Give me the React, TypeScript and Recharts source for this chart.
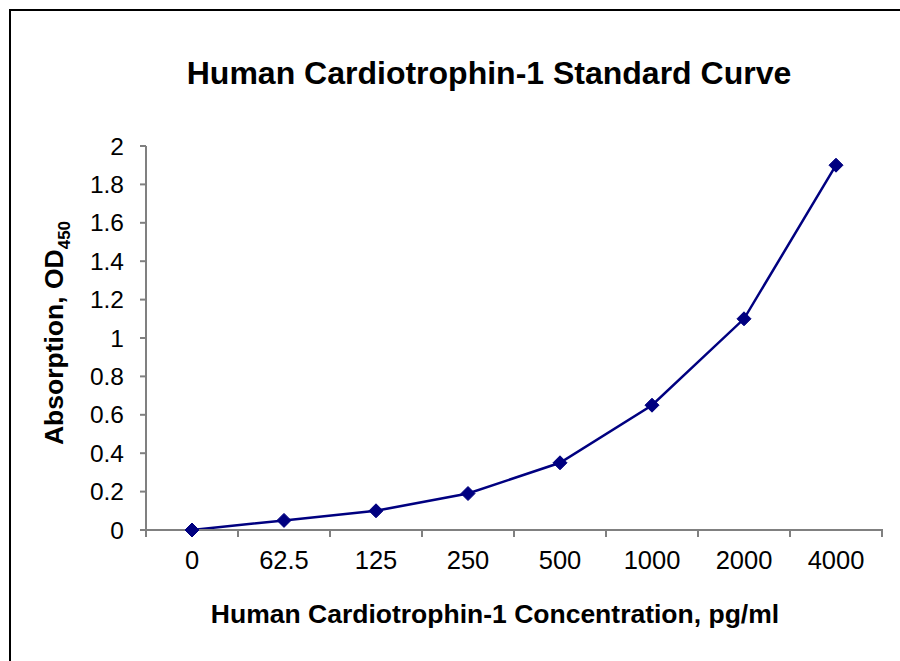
import React from "react";
import { LineChart, Line, XAxis, YAxis } from "recharts";

const CONCENTRATIONS = ["0", "62.5", "125", "250", "500", "1000", "2000", "4000"];
const ABSORPTION = [0, 0.05, 0.1, 0.19, 0.35, 0.65, 1.1, 1.9];
const Y_TICKS = [0, 0.2, 0.4, 0.6, 0.8, 1, 1.2, 1.4, 1.6, 1.8, 2];

const data = CONCENTRATIONS.map((c, i) => ({ idx: i, conc: c, od: ABSORPTION[i] }));

// labels at category centres, tick marks at category boundaries
const xTicks: number[] = [];
for (let i = 0; i <= CONCENTRATIONS.length * 2; i++) xTicks.push(i / 2 - 0.5);

const FONT = '"Liberation Sans", Arial, sans-serif';
const NAVY = "#000080";
const AXIS = "#808080";

const XTick = (props: any) => {
  const { x, y, payload } = props;
  const v = payload.value;
  if (Number.isInteger(v)) {
    return (
      <text x={x} y={y + 31} textAnchor="middle" fontSize={25.5} fill="#000" fontFamily={FONT}>
        {CONCENTRATIONS[v]}
      </text>
    );
  }
  return <line x1={x} x2={x} y1={y - 9} y2={y - 1} stroke={AXIS} strokeWidth={2} />;
};

const Diamond = (props: any) => {
  const { cx, cy, index } = props;
  const r = 7;
  return (
    <path
      key={index}
      d={`M${cx},${cy - r}L${cx + r},${cy}L${cx},${cy + r}L${cx - r},${cy}Z`}
      fill={NAVY}
      stroke={NAVY}
    />
  );
};

export default function App() {
  return (
    <div
      style={{
        position: "absolute",
        left: 0,
        top: 0,
        width: 900,
        height: 661,
        overflow: "hidden",
        background: "#fff",
        fontFamily: FONT,
      }}
    >
      <div
        style={{
          position: "absolute",
          left: 9,
          top: 9,
          width: 1000,
          height: 800,
          borderLeft: "2px solid #000",
          borderTop: "2px solid #000",
        }}
      />
      <div
        style={{
          position: "absolute",
          left: 0,
          width: 978,
          top: 55,
          textAlign: "center",
          fontSize: 32,
          fontWeight: "bold",
          color: "#000",
          whiteSpace: "nowrap",
        }}
      >
        Human Cardiotrophin-1 Standard Curve
      </div>
      <div
        style={{
          position: "absolute",
          left: 0,
          width: 990,
          top: 599,
          textAlign: "center",
          fontSize: 26.5,
          fontWeight: "bold",
          color: "#000",
          whiteSpace: "nowrap",
        }}
      >
        Human Cardiotrophin-1 Concentration, pg/ml
      </div>
      <div
        style={{
          position: "absolute",
          left: 57,
          top: 333,
          transform: "translate(-50%, -50%) rotate(-90deg)",
          whiteSpace: "nowrap",
          fontSize: 26.5,
          fontWeight: "bold",
          color: "#000",
        }}
      >
        Absorption, OD<sub style={{ fontSize: 17 }}>450</sub>
      </div>
      <div style={{ position: "absolute", left: 0, top: 0 }}>
        <LineChart
          width={900}
          height={661}
          data={data}
          margin={{ top: 146, right: 18, left: 0, bottom: 91 }}
        >
          <XAxis
            dataKey="idx"
            type="number"
            domain={[-0.5, CONCENTRATIONS.length - 0.5]}
            ticks={xTicks}
            interval={0}
            tick={<XTick />}
            tickLine={false}
            axisLine={{ stroke: AXIS, strokeWidth: 2 }}
            height={40}
          />
          <YAxis
            type="number"
            domain={[0, 2]}
            ticks={Y_TICKS}
            interval={0}
            width={146}
            tickSize={6}
            tickMargin={16}
            tickLine={{ stroke: AXIS, strokeWidth: 2 }}
            axisLine={{ stroke: AXIS, strokeWidth: 2 }}
            tick={{ fontSize: 24.5, fill: "#000", fontFamily: FONT }}
          />
          <Line
            dataKey="od"
            stroke={NAVY}
            strokeWidth={2.5}
            dot={<Diamond />}
            isAnimationActive={false}
          />
        </LineChart>
      </div>
    </div>
  );
}
